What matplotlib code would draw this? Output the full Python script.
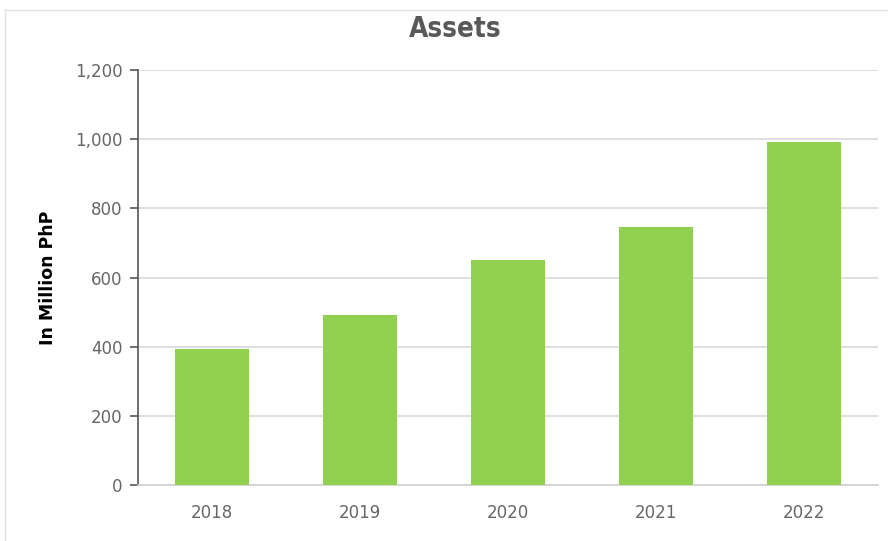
import matplotlib
matplotlib.use('Agg')
import matplotlib.pyplot as plt
from matplotlib.ticker import FuncFormatter
from matplotlib.lines import Line2D

# data
years = ['2018', '2019', '2020', '2021', '2022']
assets = [394, 492, 651, 745, 991]

# figure
fig = plt.figure(figsize=(8.88, 5.41), dpi=100)
ax = fig.add_axes([0.1554, 0.1035, 0.8333, 0.767])

ax.bar(range(len(years)), assets, width=0.5, color='#92D050', zorder=3)

ax.set_xlim(-0.5, len(years) - 0.5)
ax.set_ylim(0, 1200)
ax.set_yticks(range(0, 1201, 200))
ax.yaxis.set_major_formatter(FuncFormatter(lambda v, p: f'{int(v):,}'))
ax.set_xticks(range(len(years)))
ax.set_xticklabels(years)

ax.grid(axis='y', color='#d9d9d9', linewidth=1.2, zorder=0)
for s in ['top', 'right']:
    ax.spines[s].set_visible(False)
ax.spines['left'].set_color('#555555')
ax.spines['left'].set_linewidth(1.2)
ax.spines['bottom'].set_color('#d0d0d0')
ax.spines['bottom'].set_linewidth(1.2)

ax.tick_params(axis='y', length=6, width=1.2, color='#555555', pad=5,
               labelsize=12, labelcolor='#666666')
ax.tick_params(axis='x', length=0, pad=14, labelsize=12, labelcolor='#666666')

ax.set_ylabel('In Million PhP', fontsize=12.5, fontweight='bold', color='black', labelpad=13)
fig.text(0.513, 0.946, 'Assets', ha='center', va='center', fontsize=20,
         fontweight='bold', color='#595959', family='DejaVu Sans', stretch='condensed')

# light frame around the chart
fig.add_artist(Line2D([0.006, 1.0], [0.982, 0.982], color='#e0e0e0', linewidth=1))
fig.add_artist(Line2D([0.006, 0.006], [0.0, 0.982], color='#e0e0e0', linewidth=1))

fig.savefig('out.png', dpi=100)
